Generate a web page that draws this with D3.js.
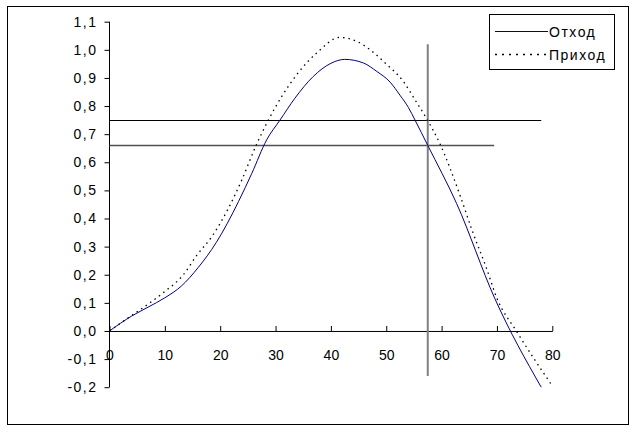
<!DOCTYPE html>
<html>
<head>
<meta charset="utf-8">
<script src="https://cdn.jsdelivr.net/npm/d3@7"></script>
<style>
  body { margin: 0; background: #fff; }
  svg { display: block; font-family: Arial, "Liberation Sans", sans-serif; }
</style>
</head>
<body>
<svg id="chart" width="638" height="432"></svg>
<script>
// data
const seriesNames = ["Отход", "Приход"];

const outgoing = [
  [0, 0], [4, 0.053], [7, 0.085], [10, 0.118], [13, 0.16], [16, 0.225],
  [19.3, 0.315], [23.3, 0.46], [25.7, 0.56], [28.4, 0.68], [30.8, 0.75],
  [33.5, 0.828], [36.8, 0.905], [40, 0.952], [42.5, 0.966], [45.9, 0.953],
  [48.3, 0.923], [50.7, 0.885], [52.5, 0.838], [54, 0.795], [55.2, 0.75],
  [57.5, 0.66], [62.7, 0.454], [69.6, 0.116], [78, -0.2]
];

const incoming = [
  [0, 0], [3.7, 0.051], [7.3, 0.1], [9.7, 0.136], [13.3, 0.199], [15.8, 0.27],
  [18.5, 0.336], [21.5, 0.437], [23.9, 0.537], [26.6, 0.665], [28.7, 0.75],
  [33.8, 0.911], [37.5, 0.99], [41.6, 1.044], [44.7, 1.03], [47.1, 1.0],
  [49.8, 0.953], [53.1, 0.887], [55.2, 0.822], [57.3, 0.755], [59.6, 0.67],
  [63.3, 0.484], [65.6, 0.353], [68, 0.229], [70, 0.116], [73.5, 0], [79.8, -0.19]
];

// horizontal guide lines: level, from x, to x
const hGuides = [
  { y: 0.75, x0: 0, x1: 78 },
  { y: 0.66, x0: 0, x1: 69.5 }
];
// vertical guide line
const vGuide = { x: 57.5, y0: -0.16, y1: 1.02 };

const xTicks = [0, 10, 20, 30, 40, 50, 60, 70, 80];
const yTicks = [-0.2, -0.1, 0, 0.1, 0.2, 0.3, 0.4, 0.5, 0.6, 0.7, 0.8, 0.9, 1.0, 1.1];

const svg = d3.select("#chart");

const xScale = d3.scaleLinear().domain([0, 80]).range([109.5, 552.3]);
const yScale = d3.scaleLinear().domain([-0.2, 1.1]).range([387.2, 21.7]);

// outer frame
svg.append("rect")
  .attr("x", 7.5).attr("y", 6.5)
  .attr("width", 621).attr("height", 418)
  .attr("fill", "#fff")
  .attr("stroke", "#000")
  .attr("stroke-width", 1);

const fmt = d => d3.format(".1f")(d).replace(".", ",").replace("−", "-");

// y axis
svg.append("g")
  .attr("class", "y-axis")
  .attr("transform", `translate(${xScale(0)},0)`)
  .call(d3.axisLeft(yScale).tickValues(yTicks).tickSize(5).tickPadding(7).tickFormat(fmt))
  .call(g => g.selectAll("path, line").attr("stroke", "#000"))
  .call(g => g.select(".domain").attr("d", `M0,${yScale(1.1)}V${yScale(-0.2)}`))
  .call(g => g.selectAll("text")
    .attr("fill", "#000")
    .style("font-size", "14px")
    .style("letter-spacing", "1.5px")
    .attr("font-family", null));

// x axis at zero, ticks pointing up
svg.append("g")
  .attr("class", "x-axis")
  .attr("transform", `translate(0,${yScale(0)})`)
  .call(d3.axisBottom(xScale).tickValues(xTicks).tickSizeInner(-5).tickSizeOuter(0).tickPadding(19).tickFormat(d3.format("d")))
  .call(g => g.selectAll("path, line").attr("stroke", "#000"))
  .call(g => g.selectAll("text")
    .attr("fill", "#000")
    .style("font-size", "14px")
    .attr("font-family", null));

// guide lines
svg.append("g")
  .selectAll("line")
  .data(hGuides)
  .join("line")
    .attr("x1", d => xScale(d.x0))
    .attr("x2", d => xScale(d.x1))
    .attr("y1", d => Math.round(yScale(d.y)) + 0.5)
    .attr("y2", d => Math.round(yScale(d.y)) + 0.5)
    .attr("stroke", (d, i) => i === 0 ? "#000" : "#505050")
    .attr("stroke-width", (d, i) => i === 0 ? 1 : 1.6);

svg.append("line")
  .attr("x1", xScale(vGuide.x)).attr("x2", xScale(vGuide.x))
  .attr("y1", yScale(vGuide.y1)).attr("y2", yScale(vGuide.y0))
  .attr("stroke", "#808080")
  .attr("stroke-width", 2);

// curves
const line = d3.line()
  .x(d => xScale(d[0]))
  .y(d => yScale(d[1]))
  .curve(d3.curveMonotoneX);

svg.append("path")
  .datum(incoming)
  .attr("d", line)
  .attr("fill", "none")
  .attr("stroke", "#000")
  .attr("stroke-width", 1.3)
  .attr("stroke-dasharray", "1.5,4");

svg.append("path")
  .datum(outgoing)
  .attr("d", line)
  .attr("fill", "none")
  .attr("stroke", "#000080")
  .attr("stroke-width", 1);

// legend
const legend = svg.append("g").attr("class", "legend");

legend.append("rect")
  .attr("x", 489.5).attr("y", 14.5)
  .attr("width", 125).attr("height", 55)
  .attr("fill", "#fff")
  .attr("stroke", "#000");

const legendItems = legend.selectAll(".item")
  .data(seriesNames)
  .join("g")
    .attr("class", "item")
    .attr("transform", (d, i) => `translate(0,${i === 0 ? 31.5 : 54.5})`);

legendItems.append("line")
  .attr("x1", 495).attr("x2", 548)
  .attr("stroke", (d, i) => i === 0 ? "#000080" : "#000")
  .attr("stroke-width", (d, i) => i === 0 ? 1 : 1.3)
  .attr("stroke-dasharray", (d, i) => i === 0 ? null : "2,5");

legendItems.append("text")
  .attr("x", 549)
  .attr("y", 5)
  .attr("fill", "#000")
  .style("font-size", "14px")
  .style("letter-spacing", "1.5px")
  .text(d => d);
</script>
</body>
</html>
